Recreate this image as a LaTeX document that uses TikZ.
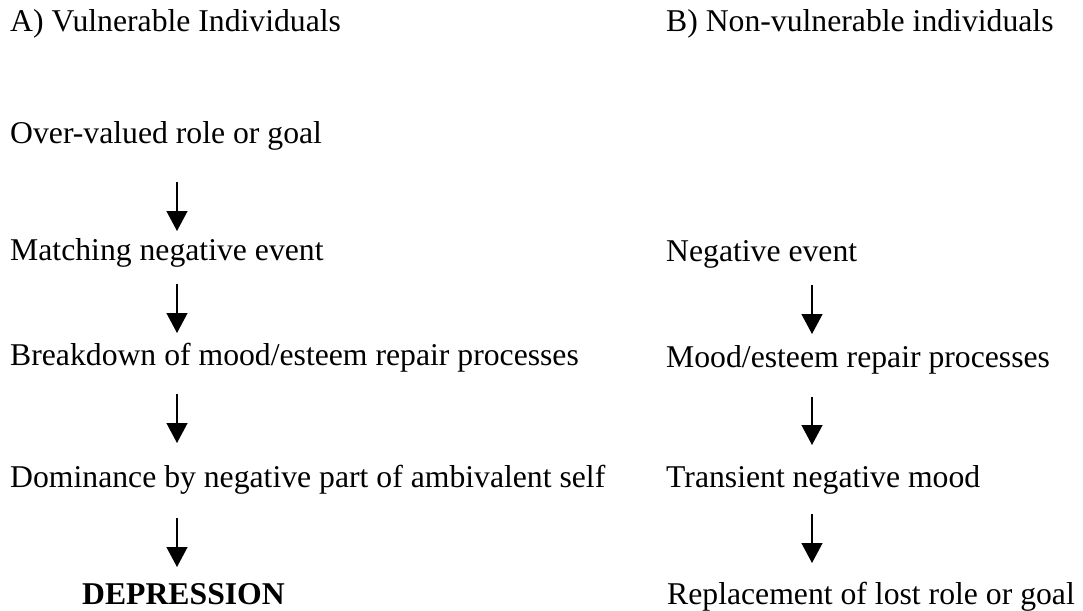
\documentclass[tikz,border=0pt]{standalone}
\usepackage{fontspec}
\setmainfont{Liberation Serif}
\usetikzlibrary{arrows.meta}
\tikzset{
  lbl/.style={anchor=base west, inner sep=0pt, font=\fontsize{31.7}{38}\selectfont},
  flowarrow/.style={line width=1.3pt, -{Triangle[length=20pt,width=21pt]}}
}
\begin{document}
\begin{tikzpicture}[x=1pt,y=-1pt]
\useasboundingbox (0,0) rectangle (1083,610);
% headings
\node[lbl] (ha) at (10,32) {A) Vulnerable Individuals};
\node[lbl] (hb) at (666,32) {B) Non-vulnerable individuals};
% left column
\node[lbl] (l1) at (10,143) {Over-valued role or goal};
\node[lbl] (l2) at (10,260) {Matching negative event};
\node[lbl] (l3) at (10,365) {Breakdown of mood/esteem repair processes};
\node[lbl] (l4) at (10,487) {Dominance by negative part of ambivalent self};
\node[lbl, font=\fontsize{31.7}{38}\selectfont\bfseries] (l5) at (82,604) {DEPRESSION};
% right column
\node[lbl] (r2) at (666,261) {Negative event};
\node[lbl] (r3) at (666,367) {Mood/esteem repair processes};
\node[lbl] (r4) at (666,487) {Transient negative mood};
\node[lbl] (r5) at (667,604) {Replacement of lost role or goal};
% arrow end points
\coordinate (la1s) at (177,182); \coordinate (la1e) at (177,231);
\coordinate (la2s) at (177,284); \coordinate (la2e) at (177,333);
\coordinate (la3s) at (177,394); \coordinate (la3e) at (177,443);
\coordinate (la4s) at (177,518); \coordinate (la4e) at (177,567);
\coordinate (ra2s) at (812,285); \coordinate (ra2e) at (812,334);
\coordinate (ra3s) at (812,397); \coordinate (ra3e) at (812,445);
\coordinate (ra4s) at (812,514); \coordinate (ra4e) at (812,563);
% arrows
\draw[flowarrow] (la1s) -- (la1e);
\draw[flowarrow] (la2s) -- (la2e);
\draw[flowarrow] (la3s) -- (la3e);
\draw[flowarrow] (la4s) -- (la4e);
\draw[flowarrow] (ra2s) -- (ra2e);
\draw[flowarrow] (ra3s) -- (ra3e);
\draw[flowarrow] (ra4s) -- (ra4e);
\end{tikzpicture}
\end{document}
